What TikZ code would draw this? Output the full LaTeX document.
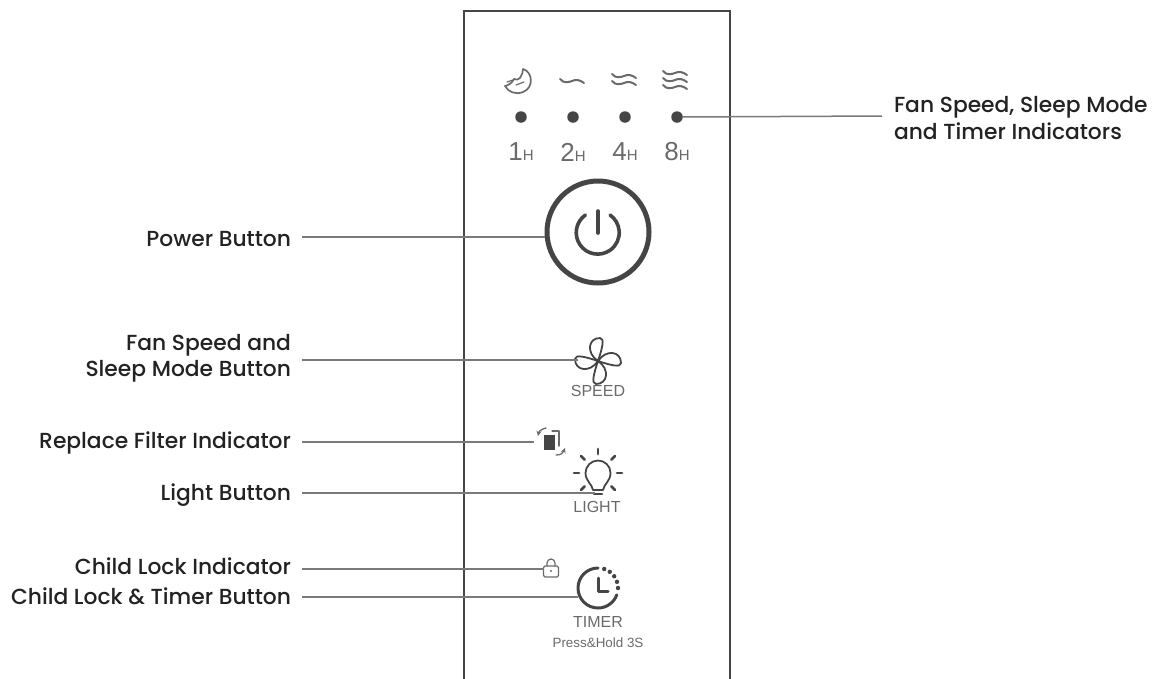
\documentclass[tikz,border=0pt]{standalone}
\usepackage{fontspec}
\setmainfont{Poppins Medium}
\newfontfamily\panelfont{Liberation Sans}
\definecolor{inkdark}{HTML}{454545}
\definecolor{inkgrey}{HTML}{6A6A6A}
\definecolor{leadgrey}{HTML}{7A7A7A}
\definecolor{labelink}{HTML}{222222}
\tikzset{
  calloutleft/.style={anchor=east,inner sep=0pt,outer sep=0pt,align=right,text=labelink,font=\fontsize{21.8}{26.5}\selectfont},
  calloutright/.style={anchor=west,inner sep=0pt,outer sep=0pt,align=left,text=labelink,font=\fontsize{21.8}{26.5}\selectfont},
  leadline/.style={draw=leadgrey,line width=1.5pt},
  panelicon/.style={draw=inkdark,line width=1.8pt,line cap=round,line join=round},
  paneltext/.style={inner sep=0pt,text=inkgrey,font=\panelfont\fontsize{16}{16}\selectfont},
  hourtext/.style={inner sep=0pt,text=inkgrey,font=\panelfont\fontsize{26}{26}\selectfont},
  leddot/.style={circle,fill=inkdark,inner sep=0pt,minimum size=11.5pt}
}
\newcommand{\wavyline}[2]{\draw[panelicon,draw=inkgrey,line width=2pt] (#1-12,#2-2) .. controls (#1-8,#2+3) and (#1-3,#2+1) .. (#1,#2) .. controls (#1+4,#2-2) and (#1+8,#2-1) .. (#1+12,#2+2);}
\begin{document}
\begin{tikzpicture}[x=1pt,y=-1pt]
  \useasboundingbox (0,0) rectangle (1161,678);
  \clip (0,0) rectangle (1161,678);
  % panel
  \draw[draw=inkdark,line width=2.6pt] (464,690) -- (464,11) -- (730,11) -- (730,690);
  % indicators
  \node[leddot] (ledone) at (521,117) {};
  \node[leddot] (ledtwo) at (573,117) {};
  \node[leddot] (ledfour) at (625,117) {};
  \node[leddot] (ledeight) at (677,117) {};
  \foreach \px/\hr in {521/1,573/2,625/4,677/8}
    \node[hourtext] (hour\hr) at (\px,152) {\hr{\fontsize{15}{15}\selectfont H}};
  % moon
  \draw[panelicon,draw=inkgrey,line width=1.7pt] (523,69) .. controls (533,72) and (534,88) .. (523,92)
    .. controls (516,95) and (508,92) .. (505,86) .. controls (509,85) and (512,83) .. (514,79)
    .. controls (516,80) and (518,80) .. (520,78) .. controls (522,75) and (523,72) .. (523,69);
  \draw[panelicon,draw=inkgrey,line width=1.2pt] (507,82) -- (513,80) (516,85) -- (524,82);
  % waves
  \wavyline{572}{81}
  \wavyline{624}{76}
  \wavyline{624}{83}
  \wavyline{675}{73}
  \wavyline{675}{80}
  \wavyline{675}{87}
  % power button
  \node[circle,draw=inkdark,line width=5pt,minimum size=102pt,inner sep=0pt] (powerbtn) at (598,232) {};
  \draw[draw=inkdark,line width=3.6pt,line cap=round] (585.4,215) arc[start angle=235,end angle=-55,radius=21.5];
  \draw[draw=inkdark,line width=3.6pt,line cap=round] (598,211) -- (598,233);
  % fan
  \foreach \ang in {0,90,180,270}
    \draw[panelicon,rotate around={\ang:(598,361)}] (598,361) .. controls (586,353) and (588,338) .. (600,338)
      .. controls (605,338) and (602,349) .. (598,361);
  \node[paneltext] (speedtxt) at (598,391) {SPEED};
  % filter
  \draw[panelicon,line width=1.1pt,draw=inkgrey] (552,431) -- (559,431) -- (559,446);
  \fill[inkdark] (544,435) rectangle (555,450);
  \draw[panelicon,line width=1.3pt,draw=inkgrey,->,>=stealth] (546,428) .. controls (542,429) and (539,431) .. (538,436);
  \draw[panelicon,line width=1.3pt,draw=inkgrey,->,>=stealth] (556,455) .. controls (561,455) and (563,453) .. (565,448);
  % light
  \draw[panelicon] (593,490) .. controls (592,484) and (585.5,481) .. (585.5,473) arc[start angle=180,end angle=360,radius=12.5]
    .. controls (610.5,481) and (604,484) .. (603,490) -- cycle;
  \draw[panelicon,line width=2.4pt] (594,494) -- (602,494);
  \foreach \ang in {0,45,90,135,180,225,315}
    \draw[panelicon,line width=2.8pt,rotate around={\ang:(598,473)}] (617,473) -- (622,473);
  \node[paneltext] (lighttxt) at (597,507) {LIGHT};
  % lock
  \draw[panelicon,line width=1.2pt,draw=inkgrey,rounded corners=1.5pt] (543.5,566) rectangle (558.5,577);
  \draw[panelicon,line width=1.2pt,draw=inkgrey] (547,566) -- (547,563) arc[start angle=180,end angle=360,radius=4] -- (555,566);
  \fill[inkgrey] (551,571) circle (1.1);
  % timer
  \draw[panelicon,line width=3pt] (598,568) arc[start angle=270,end angle=20,radius=20];
  \foreach \ang in {288,306,324,342,0}
    \fill[inkdark] (598,588) ++(\ang:20) circle (2.2);
  \draw[panelicon,line width=3pt] (598,578) -- (598,591) -- (608,591);
  \node[paneltext] (timertxt) at (598,622) {TIMER};
  \node[paneltext,font=\panelfont\fontsize{13.4}{13.4}\selectfont] (holdtxt) at (598,643) {Press\&Hold 3S};
  % callouts
  \node[calloutright] (lblindicators) at (894,118) {Fan Speed, Sleep Mode\\and Timer Indicators};
  \node[calloutleft] (lblpower) at (291,239) {Power Button};
  \node[calloutleft] (lblfan) at (291,358.5) {Fan Speed and\\Sleep Mode Button};
  \node[calloutleft] (lblfilter) at (291,443) {Replace Filter Indicator};
  \node[calloutleft] (lbllight) at (291,495) {Light Button};
  \node[calloutleft] (lbllock) at (291,566) {Child Lock Indicator};
  \node[calloutleft] (lbltimer) at (291,596) {Child Lock \& Timer Button};
  \coordinate (endpower) at (545,237);
  \coordinate (endfan) at (578,360);
  \coordinate (endfilter) at (534,442);
  \coordinate (endlight) at (595,493);
  \coordinate (endlock) at (544,569);
  \coordinate (endtimer) at (578,597);
  \draw[leadline] (ledeight) -- (882,116);
  \foreach \lbl/\tgt in {lblpower/endpower,lblfan/endfan,lblfilter/endfilter,lbllight/endlight,lbllock/endlock,lbltimer/endtimer}
    \draw[leadline] (\lbl.east |- \tgt) ++(11,0) -- (\tgt);
\end{tikzpicture}
\end{document}
